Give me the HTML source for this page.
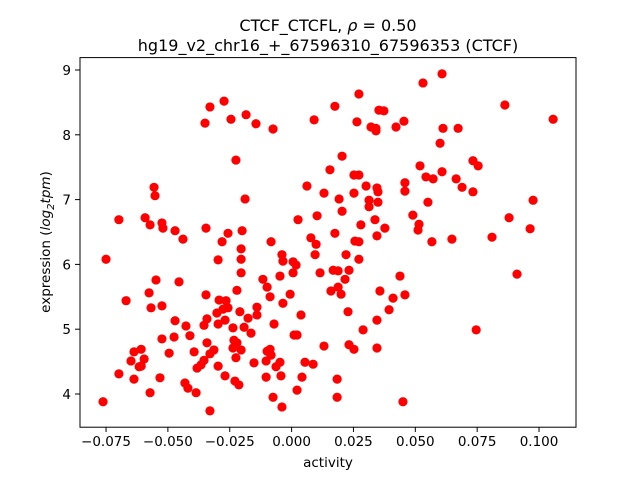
<!DOCTYPE html>
<html><head><meta charset="utf-8"><style>
body{margin:0;background:#fff}
svg{display:block;font-family:"DejaVu Sans","Liberation Sans",sans-serif}
</style></head><body>
<svg id="chart" width="640" height="480">
<rect width="640" height="480" fill="#fff"/>
<text x="328" y="31" font-size="16" text-anchor="middle">CTCF_CTCFL, <tspan font-style="italic">ρ</tspan> = 0.50</text>
<text x="328" y="51" font-size="16" text-anchor="middle">hg19_v2_chr16_+_67596310_67596353 (CTCF)</text>
<g id="ticks"></g>
<g id="points"></g>
<rect x="80" y="57.6" width="496" height="369.6" fill="none" stroke="#000" stroke-width="1"/>
<text x="328" y="467" font-size="13.5" text-anchor="middle">activity</text>
<text transform="translate(50,242) rotate(-90)" font-size="13.5" text-anchor="middle">expression (<tspan font-style="italic">log</tspan><tspan font-size="10" dy="4" font-style="italic">2</tspan><tspan dy="-4" font-style="italic">tpm</tspan>)</text>
</svg>
<script>
const xTicks=[-0.075,-0.050,-0.025,0.000,0.025,0.050,0.075,0.100];
const xTickLabels=["−0.075","−0.050","−0.025","0.000","0.025","0.050","0.075","0.100"];
const yTicks=[4,5,6,7,8,9];
const yTickLabels=["4","5","6","7","8","9"];
const activity=[-0.0698,-0.0592,-0.0572,-0.0524,-0.0520,-0.0471,-0.0439,-0.0556,-0.0552,-0.0350,-0.0330,-0.0273,-0.0245,-0.0184,-0.0144,-0.0075,0.0091,-0.0225,-0.0188,-0.0346,-0.0257,-0.0200,-0.0281,-0.0083,0.0026,0.0103,0.0062,0.0131,0.0155,0.0078,0.0099,0.0175,0.0272,0.0531,0.0608,0.0862,0.1057,0.0353,0.0373,0.0264,0.0321,0.0341,0.0341,0.0422,0.0454,0.0612,0.0673,0.0600,0.0204,0.0252,0.0272,0.0519,0.0733,0.0754,0.0608,0.0543,0.0572,0.0665,0.0689,0.0733,0.0301,0.0345,0.0349,0.0252,0.0458,0.0458,0.0192,0.0313,0.0349,0.0313,0.0551,0.0204,0.0976,0.0490,0.0337,0.0280,0.0377,0.0515,0.0511,0.0879,0.0964,0.0175,0.0345,0.0256,0.0272,0.0567,0.0648,0.0810,
-0.0204,-0.0204,-0.0297,-0.0039,-0.0035,0.0006,0.0018,0.0006,0.0095,0.0115,0.0168,0.0159,-0.0750,-0.0548,-0.0455,-0.0576,-0.0669,-0.0568,-0.0524,-0.0346,-0.0221,-0.0204,-0.0116,-0.0099,-0.0047,-0.0087,-0.0006,-0.0035,-0.0293,-0.0265,-0.0257,-0.0277,-0.0302,-0.0209,-0.0140,-0.0140,-0.0176,0.0038,-0.0471,-0.0342,-0.0354,-0.0269,-0.0297,-0.0237,-0.0192,-0.0164,-0.0071,-0.0427,-0.0411,-0.0524,-0.0475,0.0010,0.0022,0.0131,-0.0233,-0.0221,-0.0342,-0.0314,-0.0237,-0.0204,-0.0394,-0.0330,-0.0495,-0.0637,-0.0608,-0.0596,-0.0649,-0.0608,-0.0616,-0.0354,-0.0366,-0.0382,-0.0225,-0.0099,-0.0087,-0.0083,-0.0103,-0.0152,-0.0047,-0.0063,0.0054,0.0087,-0.0297,-0.0698,-0.0637,-0.0532,-0.0269,-0.0229,-0.0213,-0.0103,-0.0043,0.0042,-0.0431,-0.0419,-0.0386,-0.0572,0.0022,-0.0762,-0.0330,-0.0075,-0.0039,
0.0220,0.0272,0.0188,0.0232,0.0216,0.0438,0.0911,0.0188,0.0200,0.0357,0.0410,0.0458,0.0394,0.0228,0.0345,0.0289,0.0746,0.0232,0.0252,0.0345,0.0184,0.0184,0.0450];
const expression=[6.69,6.72,6.61,6.64,6.56,6.52,6.39,7.19,7.06,8.18,8.43,8.52,8.24,8.31,8.17,8.09,8.23,7.61,7.01,6.56,6.48,6.52,6.35,6.35,6.69,6.75,7.21,7.10,7.46,6.41,6.31,8.44,8.63,8.80,8.94,8.46,8.24,8.38,8.37,8.20,8.12,8.06,8.10,8.12,8.21,8.10,8.10,7.87,7.67,7.38,7.38,7.52,7.60,7.52,7.43,7.35,7.32,7.32,7.19,7.12,7.21,7.18,7.12,7.10,7.26,7.13,7.01,6.99,6.96,6.89,6.96,6.82,6.99,6.76,6.69,6.61,6.56,6.62,6.53,6.72,6.55,6.48,6.44,6.36,6.35,6.35,6.39,6.42,
6.24,6.08,6.07,6.15,6.05,6.04,5.99,5.87,6.15,5.87,5.91,5.59,6.08,5.76,5.73,5.56,5.44,5.33,5.36,5.53,5.60,5.87,5.77,5.65,5.82,5.50,5.54,5.40,5.45,5.44,5.33,5.31,5.25,5.27,5.34,5.22,5.17,5.22,5.13,5.16,5.06,5.14,5.08,5.02,5.03,4.94,5.08,5.05,4.90,4.85,4.88,4.91,4.91,4.74,4.83,4.79,4.79,4.68,4.71,4.68,4.65,4.62,4.63,4.65,4.69,4.54,4.51,4.43,4.42,4.52,4.45,4.40,4.56,4.66,4.69,4.60,4.51,4.48,4.49,4.42,4.49,4.46,4.43,4.31,4.23,4.25,4.28,4.20,4.14,4.26,4.28,4.26,4.17,4.09,4.02,4.02,4.06,3.88,3.74,3.95,3.80,
6.15,6.08,5.90,5.91,5.77,5.82,5.85,5.65,5.54,5.59,5.48,5.53,5.30,5.27,5.14,4.99,4.99,4.76,4.69,4.71,4.23,3.95,3.88];
const NS="http://www.w3.org/2000/svg";
const X0=291.6, XS=2474.3, Y4=394, YS=64.8;
function sx(v){return X0+v*XS;}
function sy(v){return Y4-(v-4)*YS;}
const tg=document.getElementById('ticks');
xTicks.forEach((t,i)=>{
  const l=document.createElementNS(NS,'line');
  l.setAttribute('x1',sx(t));l.setAttribute('x2',sx(t));l.setAttribute('y1',427.2);l.setAttribute('y2',432);
  l.setAttribute('stroke','#000');
  
  
  tg.appendChild(l);
  const tx=document.createElementNS(NS,'text');
  tx.setAttribute('x',sx(t));tx.setAttribute('y',446);tx.setAttribute('font-size','13.5');tx.setAttribute('text-anchor','middle');
  tx.textContent=xTickLabels[i];
  
  
  tg.appendChild(tx);
});
yTicks.forEach((t,i)=>{
  const l=document.createElementNS(NS,'line');
  l.setAttribute('x1',75);l.setAttribute('x2',80);l.setAttribute('y1',sy(t));l.setAttribute('y2',sy(t));
  l.setAttribute('stroke','#000');
  
  
  tg.appendChild(l);
  const tx=document.createElementNS(NS,'text');
  tx.setAttribute('x',71);tx.setAttribute('y',sy(t)+5);tx.setAttribute('font-size','13.5');tx.setAttribute('text-anchor','end');
  tx.textContent=yTickLabels[i];
  
  
  tg.appendChild(tx);
});
const pg=document.getElementById('points');
activity.forEach((a,i)=>{
  const c=document.createElementNS(NS,'circle');
  c.setAttribute('cx',sx(a));c.setAttribute('cy',sy(expression[i]));c.setAttribute('r',4.6);c.setAttribute('fill','#ff0000');
  
  
  pg.appendChild(c);
});
</script>
</body></html>
